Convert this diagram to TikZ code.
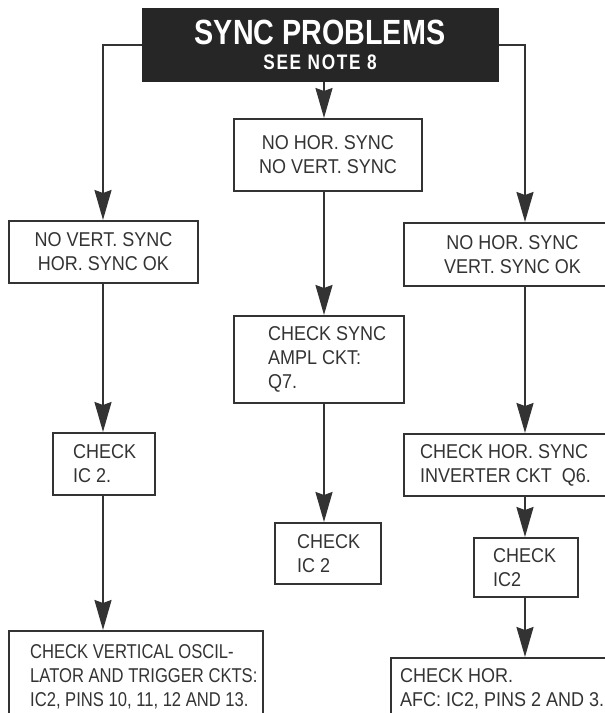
\documentclass[tikz,border=0pt]{standalone}
\usepackage{fontspec}
\setmainfont{Liberation Sans}[FakeStretch=0.9]
\newfontfamily\narrowfont{Liberation Sans}[FakeStretch=0.83]
\newfontfamily\hdrfont{Liberation Sans}[FakeStretch=0.82]
\newfontfamily\notefont{Liberation Sans}[FakeStretch=0.82,LetterSpace=8]
\usetikzlibrary{arrows.meta}
\definecolor{ink}{HTML}{333333}
\definecolor{hdrfill}{HTML}{262626}
\tikzset{
  box/.style={draw=ink, line width=2pt, rectangle, inner sep=0pt, anchor=north west,
    text=ink, font=\fontsize{20}{24}\selectfont},
  txt/.style={text=ink, font=\fontsize{20}{24}\selectfont, inner sep=0pt, align=left, anchor=west},
  conn/.style={draw=ink, line width=2pt, -{Stealth[length=30pt,width=17pt,inset=3pt]}}
}
\begin{document}
\begin{tikzpicture}[x=1pt,y=-1pt]
\useasboundingbox (0,0) rectangle (605,713);
\clip (0,0) rectangle (605,713);

% header
\node[box, fill=hdrfill, draw=hdrfill, minimum width=355pt, minimum height=72pt] (hdr) at (142,8) {};
\node[text=white, inner sep=0pt, font=\hdrfont\bfseries\fontsize{35}{35}\selectfont] (title) at (320,32) {SYNC PROBLEMS};
\node[text=white, inner sep=0pt, font=\notefont\bfseries\fontsize{21}{21}\selectfont] (note) at (320,62) {SEE NOTE 8};

% boxes
\node[box, minimum width=188pt, minimum height=72pt, align=center] (c1) at (233,118) {NO HOR. SYNC\\NO VERT. SYNC};
\node[box, minimum width=189pt, minimum height=62pt, align=center] (l1) at (8,220) {NO VERT. SYNC\\HOR. SYNC OK};
\node[box, minimum width=217pt, minimum height=63pt, align=center] (r1) at (403,222) {NO HOR. SYNC\\VERT. SYNC OK};

\node[box, minimum width=170pt, minimum height=87pt] (c2) at (233,315) {};
\node[txt] (c2t) at ([xshift=35pt]c2.west) {CHECK SYNC\\AMPL CKT:\\Q7.};

\node[box, minimum width=102pt, minimum height=62pt] (l2) at (52,432) {};
\node[txt] (l2t) at ([xshift=21pt]l2.west) {CHECK\\IC 2.};

\node[box, minimum width=106pt, minimum height=61pt] (c3) at (274,522) {};
\node[txt] (c3t) at ([xshift=23pt]c3.west) {CHECK\\IC 2};

\node[box, minimum width=220pt, minimum height=62pt] (r2) at (403,433) {};
\node[txt] (r2t) at ([xshift=17pt]r2.west) {CHECK HOR. SYNC\\INVERTER CKT\ \ Q6.};

\node[box, minimum width=104pt, minimum height=59pt] (r3) at (473,537) {};
\node[txt] (r3t) at ([xshift=20pt]r3.west) {CHECK\\IC2};

\node[box, minimum width=254pt, minimum height=92pt] (l3) at (8,630) {};
\node[txt, font=\narrowfont\fontsize{20}{24}\selectfont] (l3t) at ([xshift=22pt]l3.west) {CHECK VERTICAL OSCIL-\\LATOR AND TRIGGER CKTS:\\IC2, PINS 10, 11, 12 AND 13.};

\node[box, minimum width=230pt, minimum height=62pt] (r4) at (390,657) {};
\node[txt] (r4t) at ([xshift=10pt]r4.west) {CHECK HOR.\\AFC: IC2, PINS 2 AND 3.};

% columns
\coordinate (colL) at (103,0);
\coordinate (colC) at (324,0);
\coordinate (colR) at (525,0);

% connectors
\draw[conn] (hdr.west) -| (colL |- l1.north);
\draw[conn] (colC |- hdr.south) -- (colC |- c1.north);
\draw[conn] (hdr.east) -| (colR |- r1.north);

\draw[conn] (colL |- l1.south) -- (colL |- l2.north);
\draw[conn] (colL |- l2.south) -- (colL |- l3.north);

\draw[conn] (colC |- c1.south) -- (colC |- c2.north);
\draw[conn] (colC |- c2.south) -- (colC |- c3.north);

\draw[conn] (colR |- r1.south) -- (colR |- r2.north);
\draw[conn] (colR |- r2.south) -- (colR |- r3.north);
\draw[conn] (colR |- r3.south) -- (colR |- r4.north);
\end{tikzpicture}
\end{document}
